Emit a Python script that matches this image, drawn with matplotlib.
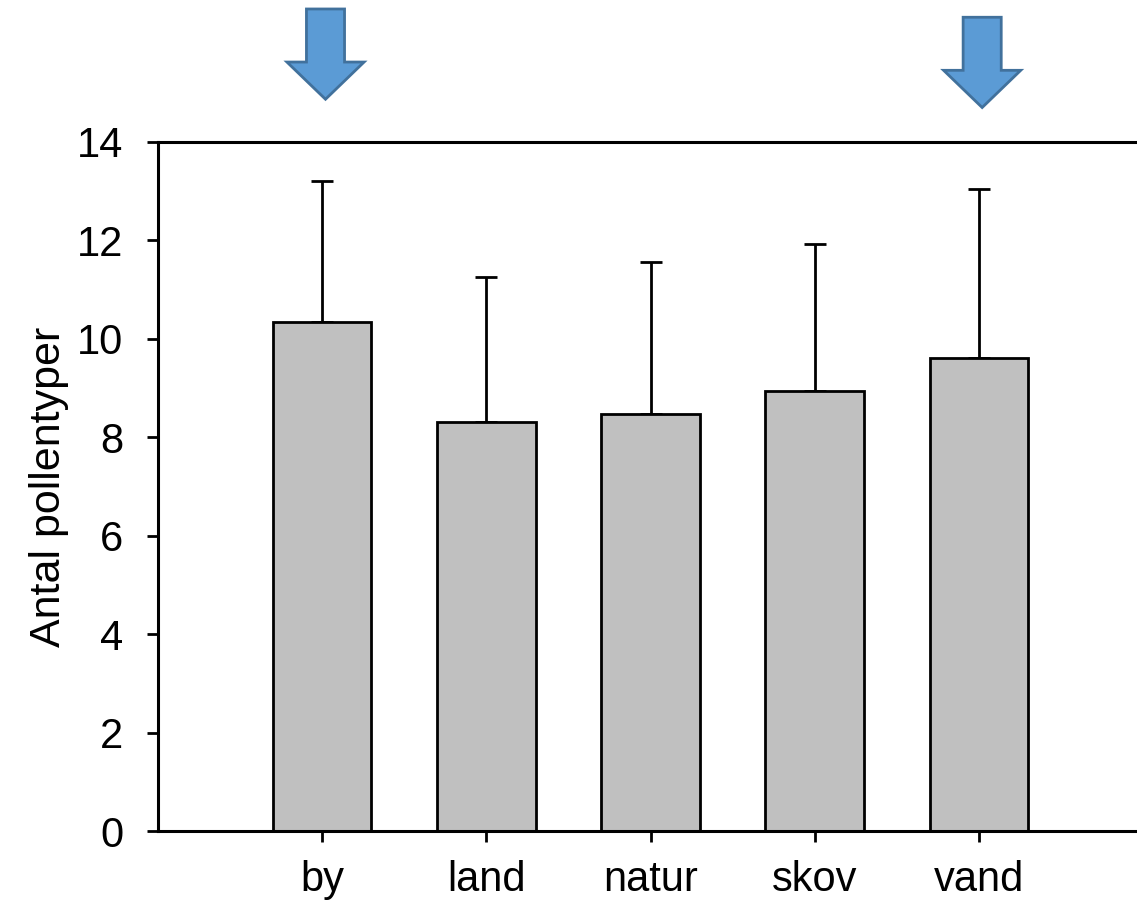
import matplotlib.pyplot as plt
from matplotlib.patches import Polygon
import matplotlib.transforms as mtransforms

# values
categories = ["by", "land", "natur", "skov", "vand"]
means = [10.35, 8.32, 8.48, 8.94, 9.62]
upper_err = [2.85, 2.93, 3.08, 2.99, 3.43]
arrow_at = ["by", "vand"]

plt.rcParams['font.family'] = ['Liberation Sans', 'DejaVu Sans']

fig = plt.figure(figsize=(11.37, 9.13), dpi=100)
ax = fig.add_axes([0.139, 0.0898, 0.862, 0.7547])

x = list(range(len(categories)))
ax.bar(x, means, width=0.6, color="#c0c0c0", edgecolor="black", linewidth=2, zorder=2)
ax.errorbar(x, means, yerr=[[0] * len(means), upper_err], fmt="none", ecolor="black",
            elinewidth=2, capsize=8, capthick=2, zorder=1)

ax.set_xlim(-1.0, 4.97)
ax.set_ylim(0, 14)
ax.set_yticks(range(0, 15, 2))
ax.set_xticks(x)
ax.set_xticklabels(categories)
ax.tick_params(axis="both", direction="out", length=8, width=2, labelsize=30)
ax.tick_params(axis="y", pad=17)
ax.tick_params(axis="x", pad=13)
ax.set_ylabel("Antal pollentyper", fontsize=31)
ax.yaxis.set_label_coords(-0.091, 0.5)

for side in ["left", "bottom", "top"]:
    ax.spines[side].set_linewidth(2.2)
ax.spines["right"].set_visible(False)

# blue arrows pointing at the highlighted categories
trans = mtransforms.blended_transform_factory(ax.transData, ax.transAxes)
arrow_tops = {"by": 1.193, "vand": 1.181}
for cat in arrow_at:
    cx = categories.index(cat) + 0.02
    top = arrow_tops[cat]
    neck = top - 0.077
    tip = top - 0.131
    sw, hw = 0.116, 0.235
    verts = [(cx - sw, top), (cx + sw, top), (cx + sw, neck), (cx + hw, neck),
             (cx, tip), (cx - hw, neck), (cx - sw, neck)]
    ax.add_patch(Polygon(verts, closed=True, transform=trans, clip_on=False,
                         facecolor="#5b9bd5", edgecolor="#41719c", linewidth=2))

fig.savefig("out.png", dpi=100)
